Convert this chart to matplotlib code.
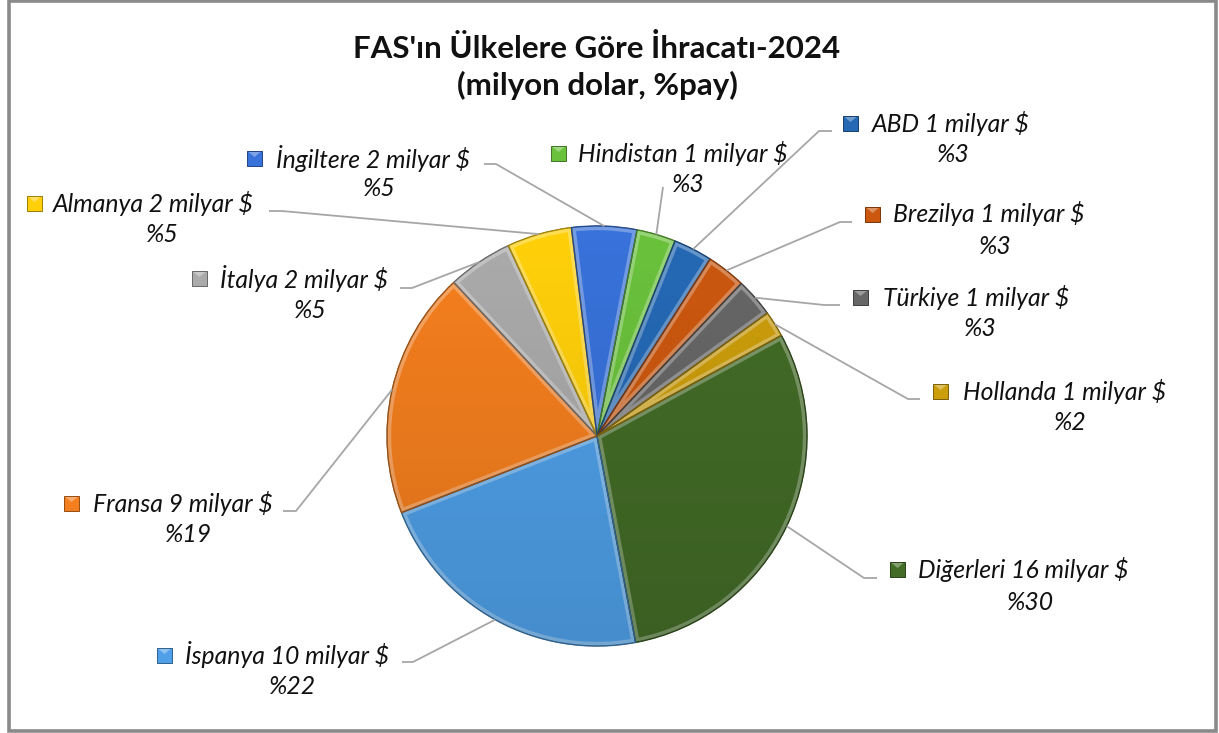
import matplotlib
matplotlib.use('Agg')
import matplotlib.pyplot as plt
from matplotlib.patches import Wedge, Rectangle, Circle, Polygon
import matplotlib.colors as mcolors
import numpy as np

# ---------------- data ----------------
countries = ['Diğerleri', 'İspanya', 'Fransa', 'İtalya', 'Almanya', 'İngiltere',
             'Hindistan', 'ABD', 'Brezilya', 'Türkiye', 'Hollanda']
billions = [16, 10, 9, 2, 2, 2, 1, 1, 1, 1, 1]
shares = [30, 22, 19, 5, 5, 5, 3, 3, 3, 3, 2]
title = "FAS'ın Ülkelere Göre İhracatı-2024\n(milyon dolar, %pay)"

colors = ['#436C27', '#4FA0E8', '#F57F1E', '#ABABAB', '#FFD00A', '#3872DA',
          '#6AC23C', '#2569B5', '#CC580F', '#676767', '#CD9E0C']

# ---------------- layout (pixel coords, y down) ----------------
W, H = 1219, 733
CX, CY, R = 597, 436, 210
START = 28.6
# per label: square x, text left x, text centre y, pct centre x, pct centre y, stub points
layout = {
    'Diğerleri': (890, 918, 569, 1030, 602, [(877, 578), (864, 578)]),
    'İspanya':   (157, 185, 655, 292, 687, [(402, 662), (413, 662)]),
    'Fransa':    (64, 93, 503, 188, 535, [(283, 511), (296, 511)]),
    'İtalya':    (192, 220, 278, 310, 311, [(400, 288), (412, 288)]),
    'Almanya':   (27, 53, 203, 162, 234, [(269, 211), (282, 211)]),
    'İngiltere': (247, 276, 158, 379, 189, [(484, 164), (496, 164)]),
    'Hindistan': (551, 578, 153, 688, 185, [(663, 187)]),
    'ABD':       (843, 872, 123, 953, 155, [(832, 131), (819, 131)]),
    'Brezilya':  (865, 893, 214, 995, 246, [(852, 222), (840, 222)]),
    'Türkiye':   (853, 883, 297, 980, 329, [(840, 305), (824, 305)]),
    'Hollanda':  (933, 963, 391, 1070, 422, [(920, 399), (908, 399)]),
}

FONT = 'Lato'
LABEL_FS = 17.8
TITLE_FS = 22.5

def Y(py):
    return H - py

def shade(c, f):
    r, g, b = mcolors.to_rgb(c)
    if f >= 0:
        return (r + (1 - r) * f, g + (1 - g) * f, b + (1 - b) * f)
    f = -f
    return (r * (1 - f), g * (1 - f), b * (1 - f))

fig = plt.figure(figsize=(W / 100, H / 100), dpi=100)
fig.patch.set_facecolor('white')
ax = fig.add_axes([0, 0, 1, 1])

wedges, _ = ax.pie(shares, colors=colors, startangle=START, counterclock=False,
                   center=(CX, Y(CY)), radius=R, frame=True,
                   wedgeprops=dict(linewidth=0.6, edgecolor='#555555'))
ax.set_xlim(0, W)
ax.set_ylim(0, H)
ax.set_aspect('equal')
ax.axis('off')

# bevel rims
for w, c in zip(wedges, colors):
    rim = Wedge(w.center, w.r, w.theta1, w.theta2, facecolor='none',
                edgecolor=shade(c, 0.3), linewidth=6, zorder=w.get_zorder() + 0.1)
    ax.add_patch(rim)
    rim.set_clip_path(w)
    rim2 = Wedge(w.center, w.r, w.theta1, w.theta2, facecolor='none',
                 edgecolor=shade(c, -0.35), linewidth=1.0, zorder=w.get_zorder() + 0.2)
    ax.add_patch(rim2)

# soft vertical gradient over pie
grad = np.zeros((200, 2, 4))
t = np.linspace(0, 1, 200)[:, None]
grad[..., :3] = 0.0
grad[..., 3] = 0.12 * t
img = ax.imshow(grad, extent=(CX - R, CX + R, Y(CY + R), Y(CY - R)), origin='upper',
                zorder=3, aspect='auto', interpolation='bilinear')
clipc = Circle((CX, Y(CY)), R, transform=ax.transData)
img.set_clip_path(clipc)

# labels
SQ = 15
for name, bil, pct, w, c in zip(countries, billions, shares, wedges, colors):
    sqx, tx, ty, px, py, stub = layout[name]
    # square marker
    ax.add_patch(Rectangle((sqx, Y(ty + SQ / 2)), SQ, SQ, facecolor=c,
                           edgecolor=shade(c, -0.4), linewidth=0.7, zorder=5))
    ax.add_patch(Polygon([(sqx + 1.5, Y(ty - SQ / 2 + 1.5)), (sqx + SQ - 1.5, Y(ty - SQ / 2 + 1.5)),
                          (sqx + SQ / 2, Y(ty - 1))], closed=True,
                         facecolor=shade(c, 0.35), edgecolor='none', zorder=6))
    ax.text(tx, Y(ty), f'{name} {bil} milyar $', fontsize=LABEL_FS, fontstyle='italic',
            family=FONT, ha='left', va='center', color='#111111')
    ax.text(px, Y(py), f'%{pct}', fontsize=LABEL_FS, fontstyle='italic',
            family=FONT, ha='center', va='center', color='#111111')
    # leader line to slice edge at mid angle
    mid = np.deg2rad((w.theta1 + w.theta2) / 2)
    ex = w.center[0] + w.r * np.cos(mid)
    ey = w.center[1] + w.r * np.sin(mid)
    xs = [p[0] for p in stub] + [ex]
    ys = [Y(p[1]) for p in stub] + [ey]
    ax.plot(xs, ys, color='#A6A6A6', linewidth=1.3, zorder=2, solid_capstyle='butt')

ax.text(597, Y(67), title, fontsize=TITLE_FS, fontweight='bold', family=FONT,
        ha='center', va='center', linespacing=1.3, color='#111111')

# outer border
ax.add_patch(Rectangle((9, Y(731)), 1207, 730, facecolor='none', edgecolor='#8A8A8A',
                       linewidth=2.6, zorder=10))

fig.savefig('out.png', dpi=100, facecolor='white')
